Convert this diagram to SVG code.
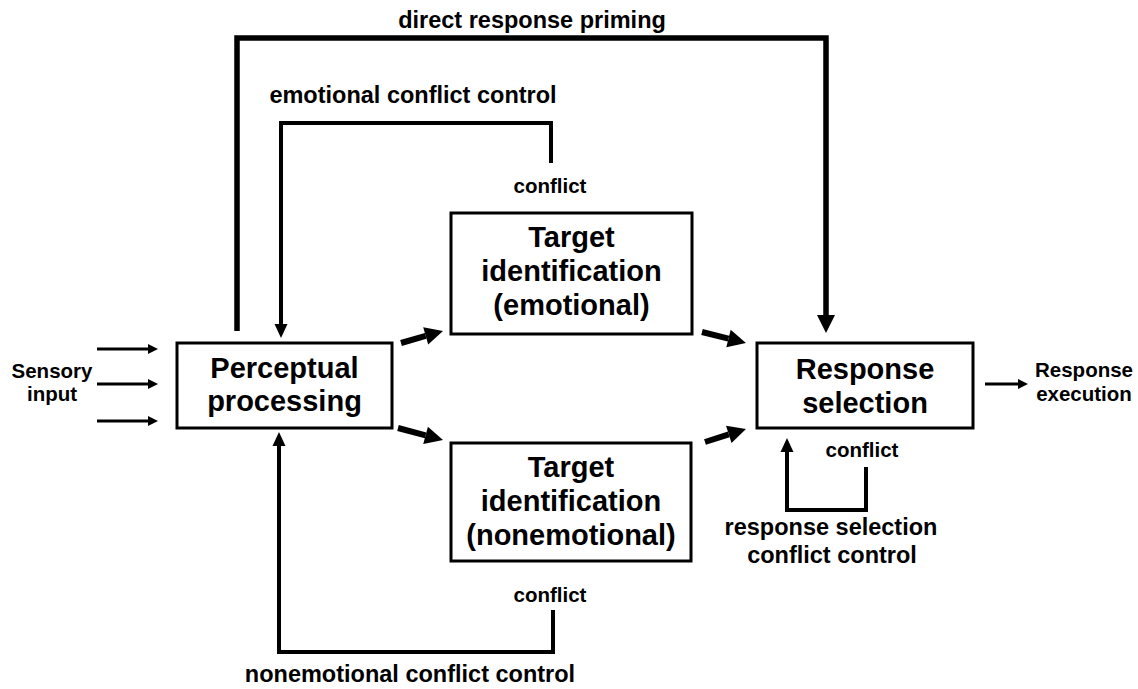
<svg xmlns="http://www.w3.org/2000/svg" width="1138" height="689" viewBox="0 0 1138 689">
<style>
.box{fill:#fff;stroke:#000;stroke-width:3}
.bt{font-family:"Liberation Sans",Arial,sans-serif;font-weight:bold;font-size:29px;text-anchor:middle;fill:#000}
.lb{font-family:"Liberation Sans",Arial,sans-serif;font-weight:bold;font-size:23.5px;text-anchor:middle;fill:#000}
.sm{font-family:"Liberation Sans",Arial,sans-serif;font-weight:bold;font-size:20.5px;text-anchor:middle;fill:#000}
.c{fill:none;stroke:#000;stroke-linejoin:miter;stroke-linecap:butt}
</style>
<defs>
<marker id="ahs" markerUnits="userSpaceOnUse" markerWidth="10" markerHeight="10" refX="0" refY="5" orient="auto" overflow="visible"><path d="M0,0 L10,5 L0,10 z" fill="#000"/></marker>
<marker id="ahm" markerUnits="userSpaceOnUse" markerWidth="14" markerHeight="13" refX="0" refY="6.5" orient="auto" overflow="visible"><path d="M0,0 L14,6.5 L0,13 z" fill="#000"/></marker>
<marker id="ahl" markerUnits="userSpaceOnUse" markerWidth="18" markerHeight="18" refX="0" refY="9" orient="auto" overflow="visible"><path d="M0,0 L18,9 L0,18 z" fill="#000"/></marker>
</defs>
<rect width="1138" height="689" fill="#fff"/>
<g id="connectors">
<path class="c" d="M97,349 H148" stroke-width="3" marker-end="url(#ahs)"/>
<path class="c" d="M97,384 H148" stroke-width="3" marker-end="url(#ahs)"/>
<path class="c" d="M97,421 H148" stroke-width="3" marker-end="url(#ahs)"/>
<path class="c" d="M985,384 H1018" stroke-width="3" marker-end="url(#ahs)"/>
<path class="c" d="M237,331 V38 H826 V315" stroke-width="5.5" marker-end="url(#ahl)"/>
<path class="c" d="M551,163 V123 H281 V324" stroke-width="4" marker-end="url(#ahm)"/>
<path class="c" d="M553,610 V652 H279 V446" stroke-width="4" marker-end="url(#ahm)"/>
<path class="c" d="M866,467 V510 H787 V452" stroke-width="4" marker-end="url(#ahm)"/>
<path class="c" d="M401,343 L425.7,335.9" stroke-width="6" marker-end="url(#ahl)"/>
<path class="c" d="M398,428 L425.6,435.4" stroke-width="6" marker-end="url(#ahl)"/>
<path class="c" d="M702,332 L728.5,338.6" stroke-width="6" marker-end="url(#ahl)"/>
<path class="c" d="M705,442 L728.8,434.4" stroke-width="6" marker-end="url(#ahl)"/>
</g>
<g id="perceptual">
<rect class="box" x="177" y="343" width="215" height="85"/>
<text class="bt" x="284.5" y="378">Perceptual</text>
<text class="bt" x="284.5" y="411">processing</text>
</g>
<g id="target-emotional">
<rect class="box" x="451" y="213" width="241" height="121"/>
<text class="bt" x="571.5" y="247">Target</text>
<text class="bt" x="571.5" y="281">identification</text>
<text class="bt" x="571.5" y="315">(emotional)</text>
</g>
<g id="target-nonemotional">
<rect class="box" x="451" y="443" width="240" height="118"/>
<text class="bt" x="571" y="477">Target</text>
<text class="bt" x="571" y="511">identification</text>
<text class="bt" x="571" y="545">(nonemotional)</text>
</g>
<g id="response-selection">
<rect class="box" x="757" y="343" width="216" height="85"/>
<text class="bt" x="865" y="379">Response</text>
<text class="bt" x="865" y="413">selection</text>
</g>
<g id="labels">
<text class="sm" x="52" y="378">Sensory</text>
<text class="sm" x="52" y="401">input</text>
<text class="sm" x="1084" y="377">Response</text>
<text class="sm" x="1084" y="401">execution</text>
<text class="lb" x="532" y="28">direct response priming</text>
<text class="lb" x="413" y="103">emotional conflict control</text>
<text class="sm" x="550" y="193">conflict</text>
<text class="sm" x="550" y="602">conflict</text>
<text class="lb" x="410" y="682">nonemotional conflict control</text>
<text class="sm" x="862" y="457">conflict</text>
<text class="lb" x="831" y="535">response selection</text>
<text class="lb" x="832" y="563">conflict control</text>
</g>
</svg>
